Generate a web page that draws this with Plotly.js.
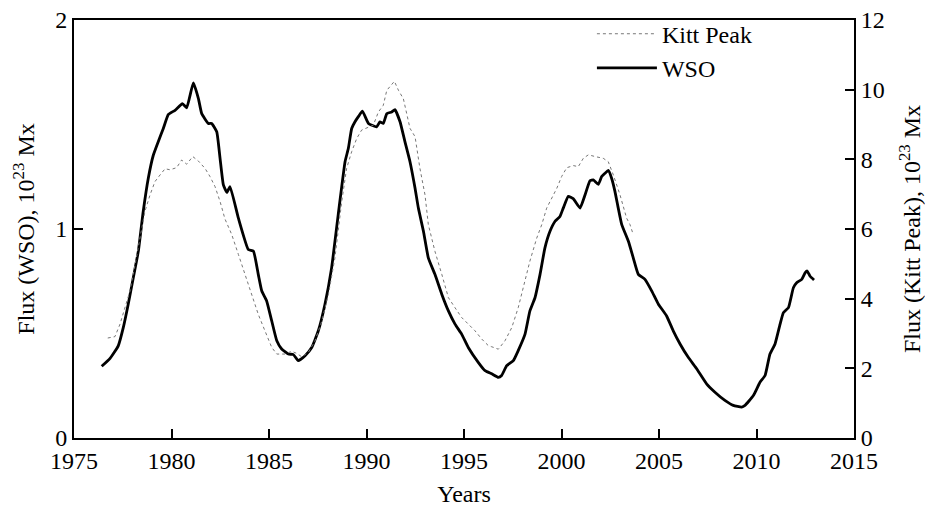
<!DOCTYPE html>
<html>
<head>
<meta charset="utf-8">
<script src="https://cdn.plot.ly/plotly-3.0.1.min.js"></script>
<style>html,body{margin:0;padding:0;background:#fff;}#chart{width:925px;height:508px;}</style>
</head>
<body>
<div id="chart"></div>
<script>
const wsoYears = [1976.42,1976.85,1977.27,1977.53,1977.78,1978.04,1978.3,1978.55,1978.81,1979.07,1979.32,1979.58,1979.84,1980.18,1980.56,1980.78,1981.12,1981.38,1981.55,1981.89,1982.06,1982.32,1982.49,1982.66,1982.84,1983.0,1983.43,1983.94,1984.2,1984.45,1984.63,1984.88,1985.14,1985.4,1985.65,1985.99,1986.25,1986.5,1986.85,1987.19,1987.53,1987.87,1988.21,1988.55,1988.9,1989.07,1989.24,1989.41,1989.6,1989.79,1990.1,1990.52,1990.69,1990.86,1991.04,1991.29,1991.46,1991.72,1991.97,1992.23,1992.49,1992.66,1992.92,1993.17,1993.51,1993.86,1994.2,1994.54,1994.88,1995.22,1995.73,1996.08,1996.42,1996.76,1996.93,1997.19,1997.53,1997.78,1998.13,1998.38,1998.64,1998.9,1999.15,1999.41,1999.67,1999.92,2000.09,2000.35,2000.6,2000.95,2001.21,2001.46,2001.63,2001.89,2002.06,2002.23,2002.4,2002.57,2002.74,2002.91,2003.09,2003.43,2003.68,2003.94,2004.28,2004.63,2004.97,2005.39,2005.73,2006.08,2006.5,2006.93,2007.44,2007.87,2008.38,2008.81,2009.24,2009.41,2009.84,2010.18,2010.44,2010.69,2010.95,2011.21,2011.38,2011.64,2011.89,2012.06,2012.32,2012.49,2012.6,2012.74,2012.95];
const wsoFlux = [0.343,0.381,0.441,0.529,0.64,0.767,0.894,1.084,1.243,1.354,1.418,1.481,1.548,1.568,1.6,1.58,1.699,1.624,1.552,1.505,1.505,1.465,1.338,1.211,1.175,1.203,1.052,0.902,0.894,0.783,0.703,0.656,0.56,0.465,0.426,0.402,0.399,0.37,0.394,0.433,0.513,0.64,0.814,1.069,1.322,1.386,1.481,1.513,1.54,1.564,1.505,1.489,1.513,1.505,1.552,1.56,1.571,1.513,1.418,1.322,1.195,1.1,0.989,0.862,0.783,0.688,0.608,0.545,0.497,0.433,0.362,0.322,0.307,0.29,0.299,0.346,0.37,0.418,0.497,0.608,0.671,0.783,0.91,0.989,1.037,1.06,1.1,1.156,1.145,1.1,1.164,1.231,1.235,1.214,1.251,1.267,1.28,1.243,1.18,1.1,1.021,0.941,0.862,0.783,0.759,0.703,0.64,0.584,0.513,0.45,0.386,0.331,0.259,0.219,0.18,0.156,0.148,0.156,0.203,0.267,0.299,0.402,0.45,0.545,0.6,0.624,0.719,0.743,0.759,0.79,0.799,0.775,0.756];

const kpYears = [1976.73,1977.1,1977.36,1977.62,1977.87,1978.13,1978.38,1978.64,1978.9,1979.15,1979.41,1979.67,1979.92,1980.26,1980.52,1980.78,1981.09,1981.38,1981.72,1981.97,1982.23,1982.49,1982.74,1983.09,1983.43,1983.77,1984.11,1984.45,1984.79,1985.14,1985.4,1985.82,1986.16,1986.42,1986.68,1987.02,1987.36,1987.71,1988.05,1988.38,1988.73,1988.98,1989.24,1989.5,1989.75,1990.1,1990.35,1990.61,1990.86,1991.04,1991.21,1991.43,1991.64,1991.89,1992.23,1992.49,1992.74,1993.0,1993.17,1993.51,1993.86,1994.2,1994.54,1994.88,1995.22,1995.56,1995.91,1996.25,1996.42,1996.76,1997.1,1997.45,1997.78,1998.13,1998.38,1998.73,1998.99,1999.24,1999.5,1999.76,2000.01,2000.27,2000.61,2000.86,2001.12,2001.38,2001.72,2002.14,2002.4,2002.66,2003.0,2003.34,2003.51,2003.68];
const kpFlux = [2.87,2.91,3.27,3.79,4.22,4.98,5.74,6.51,6.98,7.36,7.55,7.73,7.7,7.76,7.98,7.86,8.08,7.95,7.74,7.51,7.22,6.79,6.29,5.84,5.27,4.7,4.13,3.55,3.08,2.6,2.41,2.41,2.49,2.43,2.33,2.46,2.79,3.36,4.13,5.17,6.79,7.74,8.22,8.6,8.84,8.93,8.98,9.36,9.55,9.98,10.08,10.24,9.98,9.74,8.89,8.65,7.74,6.98,6.13,5.36,4.7,4.03,3.74,3.46,3.27,3.08,2.84,2.65,2.62,2.55,2.79,3.17,3.74,4.51,5.08,5.74,6.13,6.6,6.89,7.17,7.51,7.76,7.82,7.79,8.03,8.13,8.08,8.03,7.93,7.55,6.98,6.31,6.13,5.84];

const xTicks = [1975,1980,1985,1990,1995,2000,2005,2010,2015];
const yTicksWSO = [0,1,2];
const yTicksKP = [0,2,4,6,8,10,12];

const FONT = "'Liberation Serif', 'Times New Roman', serif";
const FS = 24;

const traces = [
  {x: kpYears, y: kpFlux, yaxis: 'y2', type: 'scatter', mode: 'lines', name: 'Kitt Peak',
   line: {color: '#777', width: 1, dash: 'dot'}},
  {x: wsoYears, y: wsoFlux, yaxis: 'y', type: 'scatter', mode: 'lines', name: 'WSO',
   line: {color: '#000', width: 2.8, shape: 'spline', smoothing: 0.4}}
];

const layout = {
  width: 925, height: 508,
  margin: {l: 74, r: 71, t: 18, b: 70},
  paper_bgcolor: '#fff', plot_bgcolor: '#fff',
  font: {family: FONT, size: FS, color: '#000'},
  showlegend: true,
  legend: {x: 0.664, y: 1.02, xanchor: 'left', yanchor: 'top', bgcolor: 'rgba(0,0,0,0)',
           font: {family: FONT, size: FS}, itemwidth: 60, tracegroupgap: 0},
  xaxis: {range: [1975, 2015], tickvals: xTicks, ticktext: xTicks.map(String),
          ticks: 'inside', ticklen: 9, tickwidth: 2, tickcolor: '#000',
          showline: true, linewidth: 2, linecolor: '#000', mirror: true,
          showgrid: false, zeroline: false,
          title: {text: 'Years', font: {family: FONT, size: FS}, standoff: 12}},
  yaxis: {range: [0, 2], tickvals: yTicksWSO, ticktext: yTicksWSO.map(String),
          ticks: 'inside', ticklen: 9, tickwidth: 2, tickcolor: '#000',
          showline: true, linewidth: 2, linecolor: '#000',
          showgrid: false, zeroline: false,
          title: {text: 'Flux (WSO), 10<sup>23</sup> Mx', font: {family: FONT, size: FS}, standoff: 14}},
  yaxis2: {range: [0, 12], tickvals: yTicksKP, ticktext: yTicksKP.map(String),
           overlaying: 'y', side: 'right',
           ticks: 'inside', ticklen: 9, tickwidth: 2, tickcolor: '#000',
           showline: true, linewidth: 2, linecolor: '#000',
           showgrid: false, zeroline: false,
           title: {text: 'Flux (Kitt Peak), 10<sup>23</sup> Mx', font: {family: FONT, size: FS}, standoff: 20}}
};

Plotly.newPlot('chart', traces, layout, {displayModeBar: false, staticPlot: true});
</script>
</body>
</html>
